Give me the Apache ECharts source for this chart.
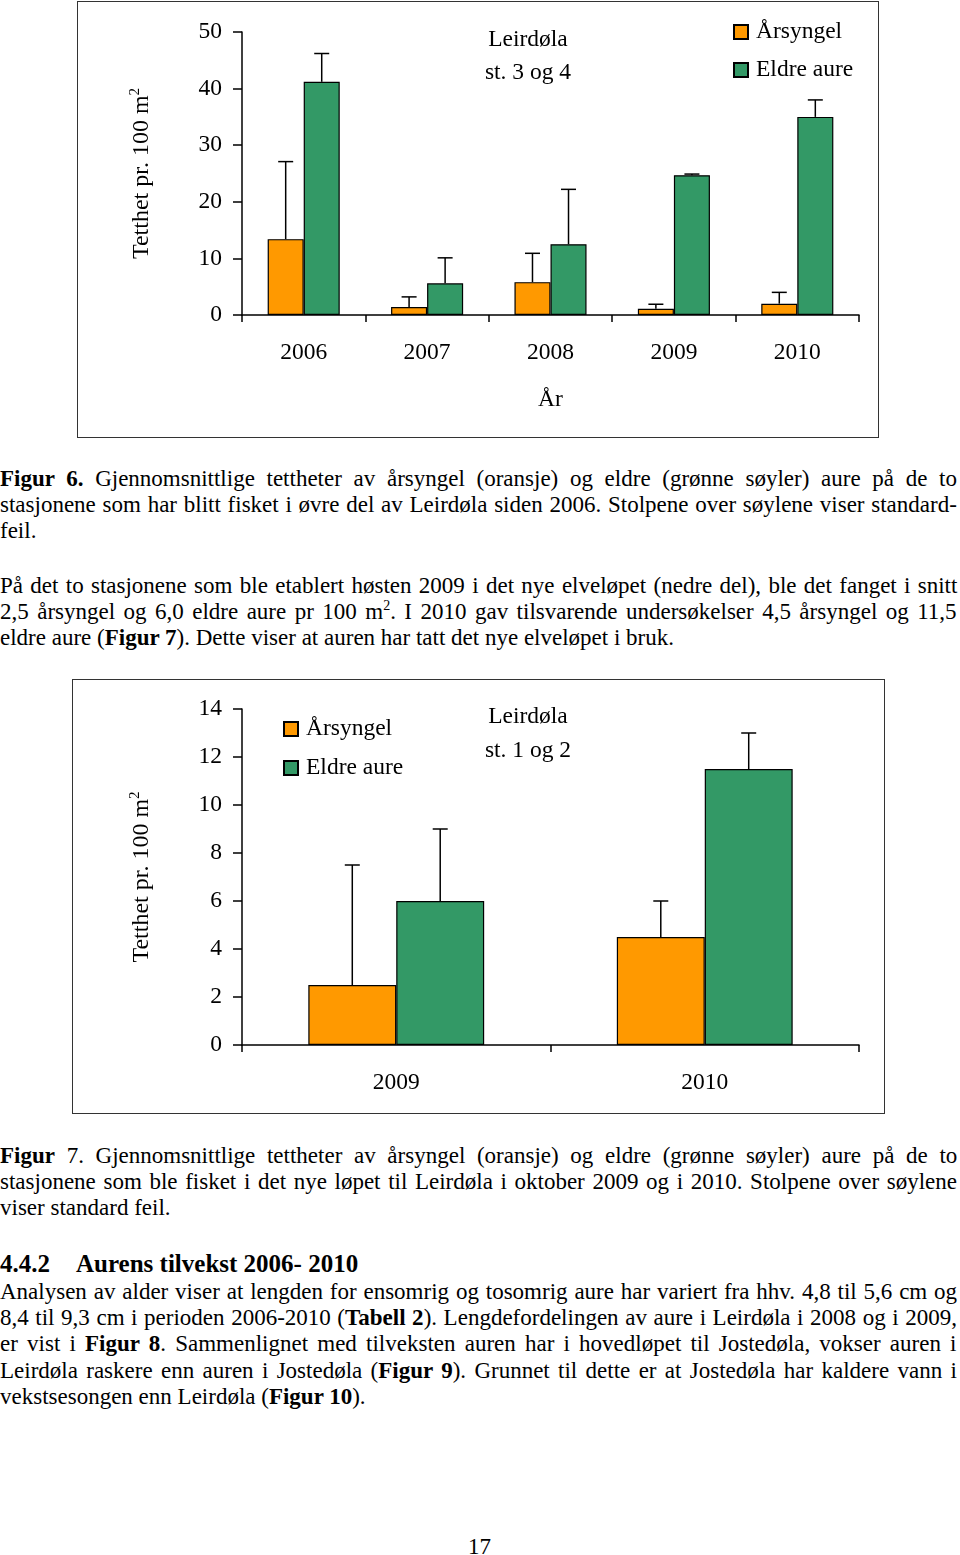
<!DOCTYPE html>
<html>
<head>
<meta charset="utf-8">
<script src="https://cdn.jsdelivr.net/npm/echarts@6/dist/echarts.min.js"></script>
<style>
  html, body { margin:0; padding:0; background:#fff; }
  body { width:960px; height:1555px; position:relative; overflow:hidden; font-family:"Liberation Serif","Times New Roman",serif; color:#000; }
  .box { position:absolute; border:1px solid #333; box-sizing:border-box; }
  .chart { position:absolute; left:0; width:960px; }
  .ln { position:absolute; left:0; height:26px; line-height:26px; font-size:23px; white-space:nowrap; }
  .ln sup { font-size:14px; line-height:0; vertical-align:super; }
  b { font-weight:bold; }
</style>
</head>
<body>
<div class="box" style="left:77px;top:1px;width:802px;height:437px;"></div>
<div class="box" style="left:72px;top:679px;width:813px;height:435px;"></div>
<div id="c1" class="chart" style="top:0px;height:440px;"></div>
<div id="c2" class="chart" style="top:660px;height:470px;"></div>

<div class="ln j" style="top:466px"><b>Figur 6.</b> Gjennomsnittlige tettheter av årsyngel (oransje) og eldre (grønne søyler) aure på de to</div>
<div class="ln j" style="top:492px">stasjonene som har blitt fisket i øvre del av Leirdøla siden 2006. Stolpene over søylene viser standard-</div>
<div class="ln" style="top:518px">feil.</div>

<div class="ln j" style="top:573px">På det to stasjonene som ble etablert høsten 2009 i det nye elveløpet (nedre del), ble det fanget i snitt</div>
<div class="ln j" style="top:599px">2,5 årsyngel og 6,0 eldre aure pr 100 m<sup>2</sup>. I 2010 gav tilsvarende undersøkelser 4,5 årsyngel og 11,5</div>
<div class="ln" style="top:625px">eldre aure (<b>Figur 7</b>). Dette viser at auren har tatt det nye elveløpet i bruk.</div>

<div class="ln j" style="top:1143px"><b>Figur</b> 7. Gjennomsnittlige tettheter av årsyngel (oransje) og eldre (grønne søyler) aure på de to</div>
<div class="ln j" style="top:1169px">stasjonene som ble fisket i det nye løpet til Leirdøla i oktober 2009 og i 2010. Stolpene over søylene</div>
<div class="ln" style="top:1195px">viser standard feil.</div>

<div class="ln" style="top:1251px;font-weight:bold;font-size:25px;"><span>4.4.2</span><span style="position:absolute;left:76px;">Aurens tilvekst 2006- 2010</span></div>
<div class="ln j" style="top:1279px">Analysen av alder viser at lengden for ensomrig og tosomrig aure har variert fra hhv. 4,8 til 5,6 cm og</div>
<div class="ln j" style="top:1305px">8,4 til 9,3 cm i perioden 2006-2010 (<b>Tabell 2</b>). Lengdefordelingen av aure i Leirdøla i 2008 og i 2009,</div>
<div class="ln j" style="top:1331px">er vist i <b>Figur 8</b>. Sammenlignet med tilveksten auren har i hovedløpet til Jostedøla, vokser auren i</div>
<div class="ln j" style="top:1358px">Leirdøla raskere enn auren i Jostedøla (<b>Figur 9</b>). Grunnet til dette er at Jostedøla har kaldere vann i</div>
<div class="ln" style="top:1384px">vekstsesongen enn Leirdøla (<b>Figur 10</b>).</div>

<div class="ln" style="top:1534px;left:468px;">17</div>

<script>
// ---------- Data: Figur 6 (Leirdøla st. 3 og 4) ----------
const years1 = ['2006', '2007', '2008', '2009', '2010'];
const arsyngel1 = [13.4, 1.4, 5.8, 1.1, 2.0];
const arsyngel1SE = [13.7, 1.8, 5.1, 0.8, 2.0];
const eldre1 = [41.2, 5.6, 12.5, 24.7, 35.0];
const eldre1SE = [5.0, 4.5, 9.7, 0.2, 3.0];

// ---------- Data: Figur 7 (Leirdøla st. 1 og 2) ----------
const years2 = ['2009', '2010'];
const arsyngel2 = [2.5, 4.5];
const arsyngel2SE = [5.0, 1.5];
const eldre2 = [6.0, 11.5];
const eldre2SE = [3.0, 1.5];

const seriesNames = ['Årsyngel', 'Eldre aure'];
const orange = '#FF9900';
const green = '#339966';
const FONT = '"Liberation Serif","Times New Roman",serif';
const FS = 23.5;

function errSeries(vals, se, side, barRatio) {
  return {
    type: 'custom',
    z: 5,
    silent: true,
    data: vals.map((v, i) => [i, v, se[i]]),
    renderItem: function (params, api) {
      const base = api.coord([api.value(0), api.value(1)]);
      const top = api.coord([api.value(0), api.value(1) + api.value(2)]);
      const bw = api.size([1, 0])[0] * barRatio;
      const x = base[0] + side * bw / 2;
      const cap = 7.5;
      const st = { stroke: '#000', lineWidth: 1.5 };
      return {
        type: 'group',
        children: [
          { type: 'line', shape: { x1: x, y1: base[1], x2: x, y2: top[1] }, style: st },
          { type: 'line', shape: { x1: x - cap, y1: top[1], x2: x + cap, y2: top[1] }, style: st }
        ]
      };
    }
  };
}

function makeOption(cfg) {
  const ratio = cfg.barRatio;
  const barW = (ratio * 100).toFixed(1) + '%';
  return {
    animation: false,
    textStyle: { fontFamily: FONT },
    grid: { left: 242, right: 101, top: cfg.gridTop, bottom: cfg.gridBottom },
    legend: {
      orient: 'vertical',
      left: cfg.legendLeft,
      top: cfg.legendTop,
      padding: 0,
      itemWidth: 14,
      itemHeight: 14,
      itemGap: cfg.legendGap,
      icon: 'rect',
      data: seriesNames,
      textStyle: { fontFamily: FONT, fontSize: FS, color: '#000', lineHeight: 24, padding: [0, 0, 0, 3] },
      selectedMode: false
    },
    xAxis: {
      type: 'category',
      data: cfg.cats,
      name: cfg.xName,
      nameLocation: 'middle',
      nameGap: 73,
      nameTextStyle: { fontFamily: FONT, fontSize: FS, color: '#000' },
      axisLine: { lineStyle: { color: '#000', width: 1.5 } },
      axisTick: { show: true, length: 7, lineStyle: { color: '#000', width: 1.5 } },
      axisLabel: { fontFamily: FONT, fontSize: FS, color: '#000', margin: 26 },
      splitLine: { show: false }
    },
    yAxis: {
      type: 'value',
      min: 0,
      max: cfg.yMax,
      interval: cfg.yInterval,
      name: 'Tetthet pr. 100 m{sup|2}',
      nameLocation: 'middle',
      nameRotate: 90,
      nameGap: 87,
      nameTextStyle: {
        fontFamily: FONT, fontSize: 24, color: '#000',
        rich: { sup: { fontFamily: FONT, fontSize: 15, color: '#000', verticalAlign: 'top', padding: [0, 0, 12, 0] } }
      },
      axisLine: { show: true, lineStyle: { color: '#000', width: 1.5 } },
      axisTick: { show: true, length: 9, lineStyle: { color: '#000', width: 1.5 } },
      axisLabel: { fontFamily: FONT, fontSize: FS, color: '#000', margin: 20 },
      splitLine: { show: false }
    },
    graphic: [
      { type: 'text', style: { x: 528, y: cfg.annY1, text: 'Leirdøla', font: FS + 'px ' + FONT, fill: '#000', align: 'center', verticalAlign: 'middle' } },
      { type: 'text', style: { x: 528, y: cfg.annY2, text: cfg.annText, font: FS + 'px ' + FONT, fill: '#000', align: 'center', verticalAlign: 'middle' } }
    ],
    series: [
      { name: seriesNames[0], type: 'bar', data: cfg.a, barWidth: barW, barGap: '0%',
        itemStyle: { color: orange, borderColor: '#000', borderWidth: 1.2 } },
      { name: seriesNames[1], type: 'bar', data: cfg.e, barWidth: barW, barGap: '0%',
        itemStyle: { color: green, borderColor: '#000', borderWidth: 1.2 } },
      errSeries(cfg.a, cfg.aSE, -1, ratio),
      errSeries(cfg.e, cfg.eSE, 1, ratio)
    ]
  };
}

const c1 = echarts.init(document.getElementById('c1'), null, { renderer: 'canvas' });
c1.setOption(makeOption({
  cats: years1, a: arsyngel1, aSE: arsyngel1SE, e: eldre1, eSE: eldre1SE,
  barRatio: 0.292, yMax: 50, yInterval: 10, gridTop: 32, gridBottom: 125,
  xName: 'År', legendLeft: 733, legendTop: 20, legendGap: 14,
  annY1: 40, annY2: 73, annText: 'st. 3 og 4'
}));

const c2 = echarts.init(document.getElementById('c2'), null, { renderer: 'canvas' });
c2.setOption(makeOption({
  cats: years2, a: arsyngel2, aSE: arsyngel2SE, e: eldre2, eSE: eldre2SE,
  barRatio: 0.285, yMax: 14, yInterval: 2, gridTop: 49, gridBottom: 85,
  xName: '', legendLeft: 283, legendTop: 57, legendGap: 15,
  annY1: 57, annY2: 91, annText: 'st. 1 og 2'
}));

// Justify each full line to the page text width
const TEXT_W = 957;
document.querySelectorAll('.ln.j').forEach(el => {
  el.style.wordSpacing = '0px';
  const w = el.scrollWidth;
  const spaces = (el.textContent.match(/ /g) || []).length;
  if (spaces > 0) el.style.wordSpacing = ((TEXT_W - w) / spaces) + 'px';
});
</script>
</body>
</html>
